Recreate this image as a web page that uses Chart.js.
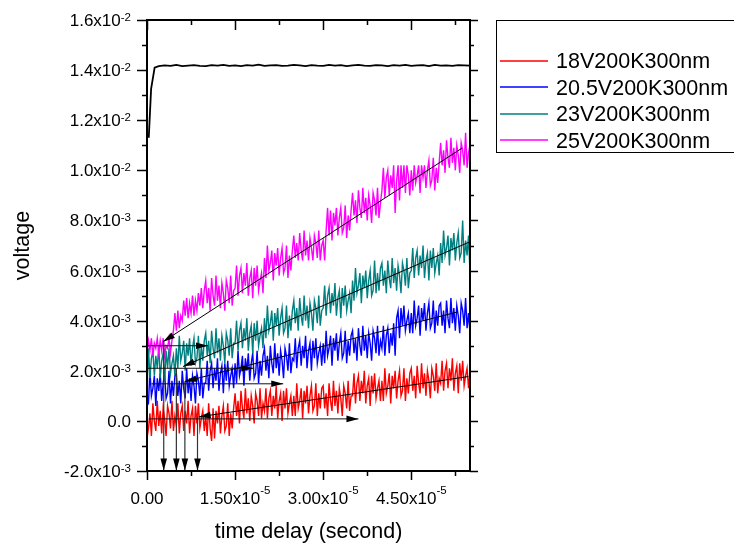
<!DOCTYPE html>
<html>
<head>
<meta charset="utf-8">
<title>time delay</title>
<script src="https://cdn.jsdelivr.net/npm/chart.js@4.4.1/dist/chart.umd.min.js"></script>
<style>
  html, body { margin: 0; padding: 0; background: #fff; }
  #wrap { width: 734px; height: 550px; }
</style>
</head>
<body>
<div id="wrap"><canvas id="chart" width="734" height="550"></canvas></div>
<script>
// Traces sampled every 0.25 us; voltages in mV (converted to V when plotted)
const STEP_US = 0.25;

const red18 = [
  -0.7, -0.3, 0.3, -0.6, 0.7, 0.0, -0.4, 0.8, -0.2, 0.4, -0.5, 0.5, 0.1, -0.6, 0.6, 0.3, -0.3, 0.8, -0.4, 0.2,
  -0.2, 0.7, -0.5, 0.3, 0.6, -0.4, 0.4, -0.1, 0.8, -0.5, 0.2, 0.5, -0.6, 0.6, -0.1, 0.7, -0.3, 0.1, 0.4, -0.4,
  0.2, -0.6, 0.7, -0.3, -0.8, 0.5, -0.7, 0.4, -0.1, 0.6, -0.5, 0.2, 0.6, -0.4, -0.2, 0.7, -0.6, 0.3, -0.3, 0.5,
  1.1, 0.2, 0.8, -0.1, 1.2, 0.5, 0.1, 1.3, 0.3, 0.9, 0.0, 1.0, 0.6, -0.1, 1.1, 0.8, 0.2, 1.3, 0.1, 0.7,
  0.4, 1.3, 0.1, 0.9, 1.2, 0.2, 1.0, 0.5, 1.4, 0.1, 0.8, 1.1, 0.0, 1.2, 0.5, 1.3, 0.3, 0.7, 1.0, 0.2,
  1.0, 0.2, 1.5, 0.5, 0.8, 1.3, 0.1, 1.2, 0.7, 1.4, 0.3, 1.0, 1.4, 0.4, 0.6, 1.5, 0.2, 1.1, 0.5, 1.3,
  1.4, 0.5, 1.1, 0.2, 1.5, 0.8, 0.4, 1.6, 0.6, 1.2, 0.3, 1.3, 0.9, 0.2, 1.4, 1.1, 0.5, 1.6, 0.4, 1.0,
  1.0, 1.9, 0.7, 1.5, 1.8, 0.8, 1.6, 1.1, 2.0, 0.7, 1.4, 1.7, 0.6, 1.8, 1.1, 1.9, 0.9, 1.3, 1.6, 0.8,
  1.6, 0.8, 2.1, 1.1, 1.4, 1.9, 0.7, 1.8, 1.3, 2.0, 0.9, 1.6, 2.0, 1.0, 1.2, 2.1, 0.8, 1.7, 1.1, 1.9,
  2.1, 1.2, 1.8, 0.9, 2.2, 1.5, 1.1, 2.3, 1.3, 1.9, 1.0, 2.0, 1.6, 0.9, 2.1, 1.8, 1.2, 2.3, 1.1, 1.7,
  1.5, 2.4, 1.2, 2.0, 2.3, 1.3, 2.1, 1.6, 2.5, 1.2, 1.9, 2.2, 1.1, 2.3, 1.6, 2.4, 1.4, 1.8, 2.1, 1.3,
  2.0
];

const blue205 = [
  0.6, 0.7, 2.0, 1.0, 1.3, 1.8, 0.6, 1.7, 1.2, 1.9, 0.8, 1.5, 1.9, 0.9, 1.1, 2.0, 0.7, 1.6, 1.0, 1.8,
  1.9, 1.0, 1.6, 0.7, 2.0, 1.3, 0.9, 2.1, 1.1, 1.7, 0.8, 1.8, 1.4, 0.7, 1.9, 1.6, 1.0, 2.1, 0.9, 1.5,
  1.5, 2.4, 1.2, 2.0, 2.3, 1.3, 2.1, 1.6, 2.5, 1.2, 1.9, 2.2, 1.1, 2.3, 1.6, 2.4, 1.4, 1.8, 2.1, 1.3,
  2.3, 1.5, 2.8, 1.8, 2.1, 2.6, 1.4, 2.5, 2.0, 2.7, 1.6, 2.3, 2.7, 1.7, 1.9, 2.8, 1.5, 2.4, 1.8, 2.6,
  2.9, 2.0, 2.6, 1.7, 3.0, 2.3, 1.9, 3.1, 2.1, 2.7, 1.8, 2.8, 2.4, 1.7, 2.9, 2.6, 2.0, 3.1, 1.9, 2.5,
  2.4, 3.3, 2.1, 2.9, 3.2, 2.2, 3.0, 2.5, 3.4, 2.1, 2.8, 3.1, 2.0, 3.2, 2.5, 3.3, 2.3, 2.7, 3.0, 2.2,
  3.1, 2.3, 3.6, 2.6, 2.9, 3.4, 2.2, 3.3, 2.8, 3.5, 2.4, 3.1, 3.5, 2.5, 2.7, 3.6, 2.3, 3.2, 2.6, 3.4,
  3.6, 2.7, 3.3, 2.4, 3.7, 3.0, 2.6, 3.8, 2.8, 3.4, 2.5, 3.5, 3.1, 2.4, 3.6, 3.3, 2.7, 3.8, 2.6, 3.2,
  2.9, 3.8, 2.6, 3.4, 3.7, 2.7, 3.5, 3.0, 3.9, 2.6, 4.1, 4.4, 3.3, 4.5, 3.8, 4.6, 3.6, 4.0, 4.3, 3.5,
  4.3, 3.5, 4.8, 3.8, 4.1, 4.6, 3.4, 4.5, 4.0, 4.7, 3.6, 4.3, 4.7, 3.7, 3.9, 4.8, 3.5, 4.4, 3.8, 4.6,
  4.7, 3.8, 4.4, 3.5, 4.8, 4.1, 3.7, 4.9, 3.9, 4.5, 3.6, 4.6, 4.2, 3.5, 4.7, 4.4, 3.8, 4.9, 3.7, 4.3,
  3.5
];

const teal23 = [
  1.2, 2.9, 1.7, 2.5, 2.8, 1.8, 2.6, 2.1, 3.0, 1.7, 2.4, 2.7, 1.6, 2.8, 2.1, 2.9, 1.9, 2.3, 2.6, 1.8,
  2.9, 2.1, 3.4, 2.4, 2.7, 3.2, 2.0, 3.1, 2.6, 3.3, 2.2, 2.9, 3.3, 2.3, 2.5, 3.4, 2.1, 3.0, 2.4, 3.2,
  3.5, 2.6, 3.2, 2.3, 3.6, 2.9, 2.5, 3.7, 2.7, 3.3, 2.4, 3.4, 3.0, 2.3, 3.5, 3.2, 2.6, 3.7, 2.5, 3.1,
  3.1, 4.0, 2.8, 3.6, 3.9, 2.9, 3.7, 3.2, 4.1, 2.8, 3.5, 3.8, 2.7, 3.9, 3.2, 4.0, 3.0, 3.4, 3.7, 2.9,
  4.1, 3.3, 4.6, 3.6, 3.9, 4.4, 3.2, 4.3, 3.8, 4.5, 3.4, 4.1, 4.5, 3.5, 3.7, 4.6, 3.3, 4.2, 3.6, 4.4,
  4.8, 3.9, 4.5, 3.6, 4.9, 4.2, 3.8, 5.0, 4.0, 4.6, 3.7, 4.7, 4.3, 3.6, 4.8, 4.5, 3.9, 5.0, 3.8, 4.4,
  4.5, 5.4, 4.2, 5.0, 5.3, 4.3, 5.1, 4.6, 5.5, 4.2, 4.9, 5.2, 4.1, 5.3, 4.6, 5.4, 4.4, 4.8, 5.1, 4.3,
  5.6, 4.8, 6.1, 5.1, 5.4, 5.9, 4.7, 5.8, 5.3, 6.0, 4.9, 5.6, 6.0, 5.0, 5.2, 6.4, 5.1, 5.9, 5.2, 6.1,
  6.3, 5.4, 6.0, 5.1, 6.4, 5.7, 5.3, 6.5, 5.5, 6.1, 5.2, 6.2, 5.8, 5.1, 6.3, 6.0, 5.4, 6.5, 5.3, 5.9,
  6.0, 6.9, 5.7, 6.5, 6.8, 5.8, 6.6, 6.1, 7.0, 5.7, 6.4, 6.7, 5.6, 6.8, 6.1, 6.9, 5.9, 6.3, 6.6, 5.8,
  7.1, 6.3, 7.6, 6.6, 6.9, 7.4, 6.2, 7.3, 6.8, 7.5, 6.4, 7.1, 7.5, 6.5, 6.7, 8.0, 6.3, 7.2, 6.6, 7.4,
  5.9
];

const magenta25 = [
  2.7, 3.2, 2.8, 3.3, 2.6, 3.1, 2.9, 3.3, 2.7, 3.2, 2.8, 3.3, 2.6, 3.0, 2.9, 3.3, 2.7, 3.2, 3.6, 4.3,
  3.6, 4.4, 3.7, 4.2, 4.0, 4.8, 4.2, 4.9, 4.1, 4.7, 4.3, 5.0, 4.2, 4.8, 4.4, 5.1, 4.6, 5.3, 4.5, 5.2,
  5.6, 4.7, 5.3, 4.4, 5.7, 5.0, 4.6, 5.8, 4.8, 5.4, 4.5, 5.5, 5.1, 4.4, 5.6, 5.3, 4.7, 5.8, 4.6, 5.2,
  5.3, 6.2, 5.0, 5.8, 6.1, 5.1, 5.9, 5.4, 6.3, 5.0, 5.7, 6.0, 4.9, 6.1, 5.4, 6.2, 5.2, 5.6, 5.9, 5.1,
  6.5, 5.7, 7.0, 6.0, 6.3, 6.8, 5.6, 6.7, 6.2, 6.9, 5.8, 6.5, 6.9, 5.9, 6.1, 7.0, 5.7, 6.6, 6.0, 6.8,
  7.4, 6.5, 7.1, 6.4, 7.5, 6.8, 6.4, 7.6, 6.6, 7.2, 6.4, 7.3, 6.9, 6.4, 7.4, 7.1, 6.5, 7.6, 6.4, 7.0,
  7.2, 6.4, 7.6, 8.5, 7.4, 8.4, 7.2, 8.3, 7.8, 8.5, 7.4, 8.1, 8.5, 7.5, 7.7, 8.6, 7.3, 8.2, 7.6, 8.4,
  9.1, 8.2, 8.8, 7.9, 9.2, 8.5, 8.1, 9.3, 8.3, 8.9, 8.0, 9.0, 8.6, 7.9, 9.1, 8.8, 8.2, 9.3, 8.1, 8.7,
  9.2, 10.1, 8.9, 9.7, 10.0, 9.0, 9.8, 9.3, 10.2, 8.3, 9.6, 10.2, 8.8, 10.2, 9.3, 10.2, 9.1, 10.2, 9.8, 9.0,
  10.0, 9.2, 10.2, 9.5, 9.8, 10.2, 9.1, 10.2, 9.7, 10.2, 9.3, 10.0, 10.4, 9.4, 9.6, 10.5, 9.2, 10.1, 9.5, 10.3,
  11.1, 10.2, 10.8, 9.9, 11.2, 10.5, 10.1, 11.3, 10.3, 10.9, 10.0, 11.0, 10.6, 9.9, 11.1, 10.8, 10.2, 11.5, 10.1, 10.7,
  11.0
];

// saturated reference trace (black), its own time base in us
const refTime = [0.3, 0.7, 1.3, 2, 3, 4, 5, 6, 7, 8, 9, 10, 11, 12, 13, 14, 15, 16, 17, 18, 19, 20,
  21, 22, 23, 24, 25, 26, 27, 28, 29, 30, 31, 32, 33, 34, 35, 36, 37, 38, 39, 40,
  41, 42, 43, 44, 45, 46, 47, 48, 49, 50, 51, 52, 53, 54, 55];
const refValues = [11.3, 13.25, 14.1,
  14.16, 14.19, 14.17, 14.21, 14.16, 14.18, 14.2, 14.17, 14.16, 14.2,
  14.18, 14.21, 14.17, 14.19, 14.16, 14.2, 14.18, 14.22, 14.17, 14.19,
  14.2, 14.17, 14.18, 14.21, 14.19, 14.16, 14.2, 14.18, 14.17, 14.21,
  14.18, 14.2, 14.16, 14.19, 14.21, 14.18, 14.17, 14.2, 14.19, 14.16,
  14.2, 14.18, 14.21, 14.17, 14.19, 14.2, 14.16, 14.21, 14.18, 14.19,
  14.17, 14.2, 14.19, 14.18];

const seriesNames = ['18V200K300nm', '20.5V200K300nm', '23V200K300nm', '25V200K300nm'];
const seriesColors = ['#ff0000', '#0000ff', '#008080', '#ff00ff'];

// linear fits [t0, v0, t1, v1] (us, mV), arrowhead on the early end
const fitLines = [
  [8.8, 0.16, 54.7, 1.77],
  [6.43, 1.57, 52.75, 4.34],
  [6.14, 2.17, 55.0, 7.15],
  [2.73, 3.16, 53.6, 10.88]
];
// baseline levels, arrowhead on the right end
const baseArrows = [
  [0.34, 0.08, 36.0, 0.08],
  [0.75, 1.48, 23.2, 1.48],
  [0.17, 2.10, 18.1, 2.10],
  [0.0, 3.0, 10.4, 3.0]
];
// onset markers dropped onto the time axis [t, v_top]
const onsetArrows = [[2.85, 3.16], [5.0, 2.11], [6.45, 1.57], [8.6, 0.17]];
const onsetFloor = -1.98;

// axes
const xMajor = [0, 1.5e-5, 3.0e-5, 4.5e-5];
const xMinor = [0.75e-5, 2.25e-5, 3.75e-5, 5.25e-5];
const xTickLabels = [['0.00', ''], ['1.50x10', '-5'], ['3.00x10', '-5'], ['4.50x10', '-5']];
const yMajor = [-2e-3, 0, 2e-3, 4e-3, 6e-3, 8e-3, 1.0e-2, 1.2e-2, 1.4e-2, 1.6e-2];
const yMinor = [-1e-3, 1e-3, 3e-3, 5e-3, 7e-3, 9e-3, 1.1e-2, 1.3e-2, 1.5e-2];
const yTickLabels = [['-2.0x10', '-3'], ['0.0', ''], ['2.0x10', '-3'], ['4.0x10', '-3'], ['6.0x10', '-3'],
  ['8.0x10', '-3'], ['1.0x10', '-2'], ['1.2x10', '-2'], ['1.4x10', '-2'], ['1.6x10', '-2']];

const FONT = "'Liberation Sans', Arial, sans-serif";

function toPoints(times, values) {
  return values.map((v, i) => ({ x: times[i] * 1e-6, y: v * 1e-3 }));
}
function sampled(values) {
  return toPoints(values.map((_, i) => i * STEP_US), values);
}
function segment(t0, v0, t1, v1) {
  return toPoints([t0, t1], [v0, v1]);
}

const datasets = [];
fitLines.forEach(f => datasets.push({
  data: segment(f[0], f[1], f[2], f[3]), borderColor: '#000', borderWidth: 1, arrowAt: 'start', order: 0
}));
baseArrows.forEach(a => datasets.push({
  data: segment(a[0], a[1], a[2], a[3]), borderColor: '#111', borderWidth: 1, arrowAt: 'end', order: 0
}));
onsetArrows.forEach(a => datasets.push({
  data: segment(a[0], a[1], a[0], onsetFloor), borderColor: '#333', borderWidth: 1.2, arrowAt: 'end', order: 0
}));
datasets.push({ data: toPoints(refTime, refValues), borderColor: '#000', borderWidth: 1.8, order: 1 });
[red18, blue205, teal23, magenta25].forEach((vals, i) => datasets.push({
  label: seriesNames[i], data: sampled(vals), borderColor: seriesColors[i], borderWidth: 1.4, order: 5 - i
}));

// arrowheads at the chosen end of each segment
const arrowHeads = {
  id: 'arrowHeads',
  afterDatasetsDraw(chart) {
    const ctx = chart.ctx;
    chart.data.datasets.forEach((ds, i) => {
      if (!ds.arrowAt) return;
      const pts = chart.getDatasetMeta(i).data;
      const tip = ds.arrowAt === 'start' ? pts[0] : pts[pts.length - 1];
      const from = ds.arrowAt === 'start' ? pts[pts.length - 1] : pts[0];
      const dx = tip.x - from.x, dy = tip.y - from.y;
      const len = Math.hypot(dx, dy);
      const ux = dx / len, uy = dy / len;
      const L = 12, W = 3.3;
      ctx.save();
      ctx.fillStyle = '#000';
      ctx.beginPath();
      ctx.moveTo(tip.x, tip.y);
      ctx.lineTo(tip.x - ux * L - uy * W, tip.y - uy * L + ux * W);
      ctx.lineTo(tip.x - ux * L + uy * W, tip.y - uy * L - ux * W);
      ctx.closePath();
      ctx.fill();
      ctx.restore();
    });
  }
};

function drawExpLabel(ctx, parts, x, baseline, align, rise) {
  ctx.font = '17px ' + FONT;
  const wm = ctx.measureText(parts[0]).width;
  ctx.font = '11.5px ' + FONT;
  const ws = parts[1] ? ctx.measureText(parts[1]).width : 0;
  const total = wm + ws;
  const x0 = align === 'right' ? x - total : x - total / 2;
  ctx.textAlign = 'left';
  ctx.textBaseline = 'alphabetic';
  ctx.font = '17px ' + FONT;
  ctx.fillText(parts[0], x0, baseline);
  if (parts[1]) {
    ctx.font = '11.5px ' + FONT;
    ctx.fillText(parts[1], x0 + wm, baseline - rise);
  }
}

// frame, ticks, tick labels, axis titles and legend
const frame = {
  id: 'frame',
  afterDraw(chart) {
    const ctx = chart.ctx;
    const { left, right, top, bottom } = chart.chartArea;
    const xs = chart.scales.x, ys = chart.scales.y;
    ctx.save();
    ctx.strokeStyle = '#000';
    ctx.fillStyle = '#000';

    ctx.lineWidth = 1.5;
    ctx.beginPath();
    xMajor.concat(xMinor).forEach((v, i) => {
      const px = Math.round(xs.getPixelForValue(v)) + 0.5;
      const major = i < xMajor.length;
      ctx.moveTo(px, bottom); ctx.lineTo(px, bottom + (major ? 9 : 5));
      ctx.moveTo(px, top); ctx.lineTo(px, top + (major ? 10 : 5));
    });
    yMajor.concat(yMinor).forEach((v, i) => {
      const py = Math.round(ys.getPixelForValue(v)) + 0.5;
      const major = i < yMajor.length;
      ctx.moveTo(left, py); ctx.lineTo(left - (major ? 10 : 5), py);
      ctx.moveTo(right, py); ctx.lineTo(right + (major ? 8 : 4), py);
    });
    ctx.stroke();

    ctx.lineWidth = 2;
    ctx.strokeRect(left, top, right - left, bottom - top);

    xMajor.forEach((v, i) => drawExpLabel(ctx, xTickLabels[i], xs.getPixelForValue(v), bottom + 33, 'center', 10));
    yMajor.forEach((v, i) => drawExpLabel(ctx, yTickLabels[i], 131, ys.getPixelForValue(v) + 6, 'right', 5));

    ctx.font = '21.5px ' + FONT;
    ctx.textAlign = 'center';
    ctx.textBaseline = 'alphabetic';
    ctx.fillText('time delay (second)', (left + right) / 2, 538);
    ctx.save();
    ctx.translate(29, (top + bottom) / 2);
    ctx.rotate(-Math.PI / 2);
    ctx.fillText('voltage', 0, 0);
    ctx.restore();

    // legend box
    ctx.lineWidth = 1;
    ctx.strokeRect(496.5, 20.5, 300, 132);
    ctx.textAlign = 'left';
    seriesNames.forEach((name, i) => {
      const y = 60.7 + i * 26.5;
      ctx.strokeStyle = seriesColors[i];
      ctx.lineWidth = 1.6;
      ctx.beginPath();
      ctx.moveTo(500, Math.round(y));
      ctx.lineTo(548, Math.round(y));
      ctx.stroke();
      ctx.fillStyle = '#000';
      ctx.fillText(name, 556, y + 7.7);
    });
    ctx.restore();
  }
};

new Chart(document.getElementById('chart'), {
  type: 'line',
  data: { datasets: datasets },
  options: {
    responsive: false,
    animation: false,
    events: [],
    layout: { padding: { left: 147, right: 264, top: 20, bottom: 79 } },
    scales: {
      x: { type: 'linear', min: 0, max: 5.5e-5, display: false },
      y: { type: 'linear', min: -2e-3, max: 1.6e-2, display: false }
    },
    elements: { point: { radius: 0 }, line: { tension: 0 } },
    plugins: { legend: { display: false }, tooltip: { enabled: false } }
  },
  plugins: [arrowHeads, frame]
});
</script>
</body>
</html>
